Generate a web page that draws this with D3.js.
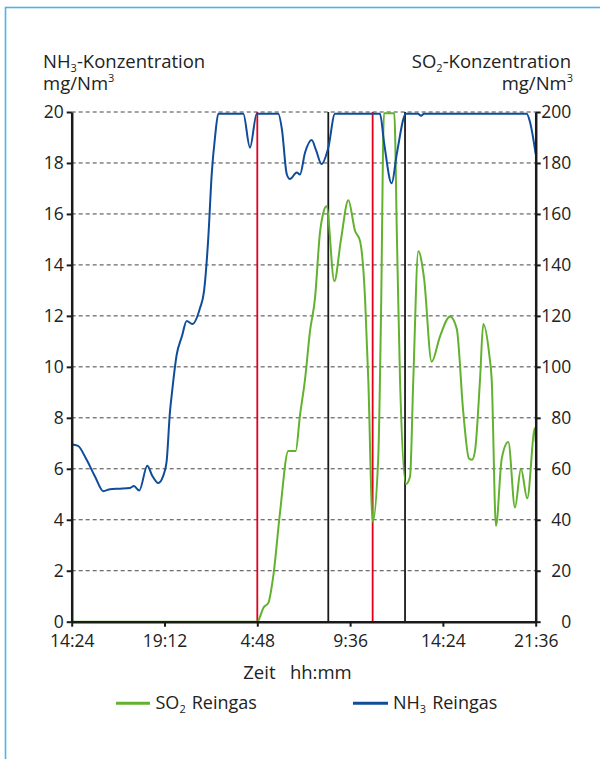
<!DOCTYPE html>
<html>
<head>
<meta charset="utf-8">
<script src="https://cdn.jsdelivr.net/npm/d3@7"></script>
<style>
  html, body { margin: 0; padding: 0; background: #fff; }
  svg text { font-family: "Open Sans", "Noto Sans", sans-serif; fill: #222; }
</style>
</head>
<body>
<svg id="chart" width="600" height="759"></svg>
<script>
// ---- data ----
const xTickLabels = ["14:24", "19:12", "4:48", "9:36", "14:24", "21:36"];
const leftTicks = [0, 2, 4, 6, 8, 10, 12, 14, 16, 18, 20];
const rightTicks = [0, 20, 40, 60, 80, 100, 120, 140, 160, 180, 200];

// NH3 (left axis, mg/Nm3); x in tick-interval units
const nh3X = [0.000, 0.068, 0.154, 0.251, 0.341, 0.413, 0.520, 0.628, 0.671, 0.728, 0.815, 0.865, 0.933, 0.984, 1.022, 1.059, 1.081, 1.131, 1.188, 1.239, 1.300, 1.382, 1.426, 1.472, 1.509, 1.544, 1.580, 1.849, 1.921, 1.994, 2.226, 2.266, 2.317, 2.352, 2.425, 2.460, 2.514, 2.586, 2.633, 2.692, 2.765, 2.837, 3.322, 3.366, 3.448, 3.505, 3.602, 3.732, 3.764, 3.797, 4.903, 4.939, 5.000];
const nh3Y = [6.95, 6.9, 6.4, 5.7, 5.12, 5.2, 5.22, 5.25, 5.32, 5.15, 6.12, 5.75, 5.44, 5.7, 6.26, 8.24, 9.0, 10.47, 11.2, 11.8, 11.68, 12.3, 12.97, 15.07, 17.57, 19.0, 19.93, 19.93, 18.6, 19.93, 19.93, 19.3, 17.57, 17.37, 17.63, 17.55, 18.4, 18.9, 18.5, 17.96, 18.6, 19.93, 19.93, 18.8, 17.2, 18.4, 19.93, 19.93, 19.85, 19.93, 19.93, 19.6, 18.35];

// SO2 (right axis, mg/Nm3)
const so2X = [0.000, 2.004, 2.029, 2.065, 2.119, 2.172, 2.245, 2.334, 2.414, 2.460, 2.514, 2.568, 2.622, 2.676, 2.708, 2.746, 2.830, 2.902, 2.981, 3.053, 3.107, 3.161, 3.196, 3.244, 3.304, 3.333, 3.365, 3.476, 3.505, 3.538, 3.602, 3.646, 3.681, 3.735, 3.796, 3.879, 3.969, 4.077, 4.149, 4.220, 4.281, 4.314, 4.346, 4.400, 4.435, 4.500, 4.526, 4.572, 4.634, 4.705, 4.777, 4.841, 4.909, 4.992, 5.000];
const so2Y = [0, 0, 2, 5.4, 7.4, 17.9, 42.9, 67, 67, 81, 95, 114, 127, 153, 160, 163, 133.6, 150, 165.4, 153.4, 149.4, 127, 95, 39.2, 65, 120, 199.5, 199.5, 150, 95, 54, 57, 95, 145.4, 135, 102, 112, 119.8, 115, 82, 64, 63.5, 67, 95, 116.8, 104.7, 95, 37.6, 64, 70.5, 44.8, 60, 48.4, 76, 70.5];

// vertical markers
const markerX = [2.0, 2.765, 3.243, 3.592];
const markerKind = ["red", "black", "red", "black"];

// ---- chart ----
const svg = d3.select("#chart");
const L = 71.7, R = 535.7, T = 112, B = 621.7;
const blue = "#0f4c9a", green = "#62b22f", red = "#e2001a";

// frame
svg.append("rect").attr("x", 5.5).attr("y", 7.5).attr("width", 700).attr("height", 800)
  .attr("fill", "none").attr("stroke", "#4cb4e7").attr("stroke-width", 1.6);

const x = d3.scaleLinear().domain([0, 5]).range([L, R]);
const yL = d3.scaleLinear().domain([0, 20]).range([B, T]);
const yR = d3.scaleLinear().domain([0, 200]).range([B, T]);

// grid
svg.append("g").selectAll("line").data(leftTicks.filter(d => d > 0)).join("line")
  .attr("x1", L).attr("x2", R).attr("y1", d => yL(d)).attr("y2", d => yL(d))
  .attr("stroke", "#444").attr("stroke-width", 1).attr("stroke-dasharray", "4,3");

// vertical markers
svg.append("g").selectAll("line").data(markerX).join("line")
  .attr("x1", d => x(d)).attr("x2", d => x(d)).attr("y1", T).attr("y2", B)
  .attr("stroke", (d, i) => markerKind[i] === "red" ? red : "#1a1a1a")
  .attr("stroke-width", 1.8);

// lines
const lineNH3 = d3.line().x((d, i) => x(nh3X[i])).y(d => yL(d)).curve(d3.curveMonotoneX);
const lineSO2 = d3.line().x((d, i) => x(so2X[i])).y(d => yR(d)).curve(d3.curveMonotoneX);
svg.append("path").attr("d", lineSO2(so2Y)).attr("fill", "none").attr("stroke", green).attr("stroke-width", 2);
svg.append("path").attr("d", lineNH3(nh3Y)).attr("fill", "none").attr("stroke", blue).attr("stroke-width", 2);

// axes
const fs = "17.5px";
const gL = svg.append("g").attr("transform", `translate(${L},0)`)
  .call(d3.axisLeft(yL).tickValues(leftTicks).tickSize(5).tickSizeOuter(0).tickPadding(3));
const gR = svg.append("g").attr("transform", `translate(${R},0)`)
  .call(d3.axisRight(yR).tickValues(rightTicks).tickSize(5).tickSizeOuter(0).tickPadding(3));
gR.selectAll("text").attr("text-anchor", "end").attr("x", 35.5);
const gB = svg.append("g").attr("transform", `translate(0,${B})`)
  .call(d3.axisBottom(x).tickValues(d3.range(6)).tickFormat(i => xTickLabels[i]).tickSize(5).tickSizeOuter(0));
gB.selectAll("text").attr("y", 25).attr("dy", 0);
[gL, gR, gB].forEach(g => {
  g.select(".domain").attr("stroke", "#1a1a1a").attr("stroke-width", 2.5);
  g.selectAll(".tick line").attr("stroke", "#1a1a1a").attr("stroke-width", 2);
  g.selectAll("text").style("font-size", fs).style("font-family", '"Open Sans", sans-serif').attr("fill", "#222");
});

// titles
const tfs = "18.5px", sfs = "11px";
function title(xp, y, anchor, base, sub, rest) {
  const t = svg.append("text").attr("x", xp).attr("y", y).attr("text-anchor", anchor).style("font-size", tfs);
  t.append("tspan").text(base);
  if (sub) t.append("tspan").attr("dy", 4).style("font-size", sfs).text(sub);
  if (rest) t.append("tspan").attr("dy", sub ? -4 : 0).text(rest);
  return t;
}
title(43, 68.3, "start", "NH", "3", "-Konzentration");
const u1 = svg.append("text").attr("x", 43).attr("y", 90).style("font-size", tfs);
u1.append("tspan").text("mg/Nm");
u1.append("tspan").attr("dy", -8).style("font-size", sfs).text("3");
title(571, 68.3, "end", "SO", "2", "-Konzentration");
const u2 = svg.append("text").attr("x", 573).attr("y", 90).attr("text-anchor", "end").style("font-size", tfs);
u2.append("tspan").text("mg/Nm");
u2.append("tspan").attr("dy", -8).style("font-size", sfs).text("3");

// x axis title
svg.append("text").attr("x", 297.5).attr("y", 679).attr("text-anchor", "middle").style("font-size", "18.5px")
  .text("Zeit\u00a0\u00a0\u00a0hh:mm");

// legend
const legend = [
  { label: "SO", sub: "2", rest: "Reingas", color: green, x1: 116, x2: 150, tx: 155.5 },
  { label: "NH", sub: "3", rest: "Reingas", color: blue, x1: 353, x2: 388, tx: 393 }
];
legend.forEach(d => {
  svg.append("line").attr("x1", d.x1).attr("x2", d.x2).attr("y1", 703.3).attr("y2", 703.3)
    .attr("stroke", d.color).attr("stroke-width", 3);
  const t = svg.append("text").attr("x", d.tx).attr("y", 709).style("font-size", "18px");
  t.append("tspan").text(d.label);
  t.append("tspan").attr("dy", 4).style("font-size", sfs).text(d.sub);
  t.append("tspan").attr("dy", -4).attr("dx", 6).text(d.rest);
});
</script>
</body>
</html>
